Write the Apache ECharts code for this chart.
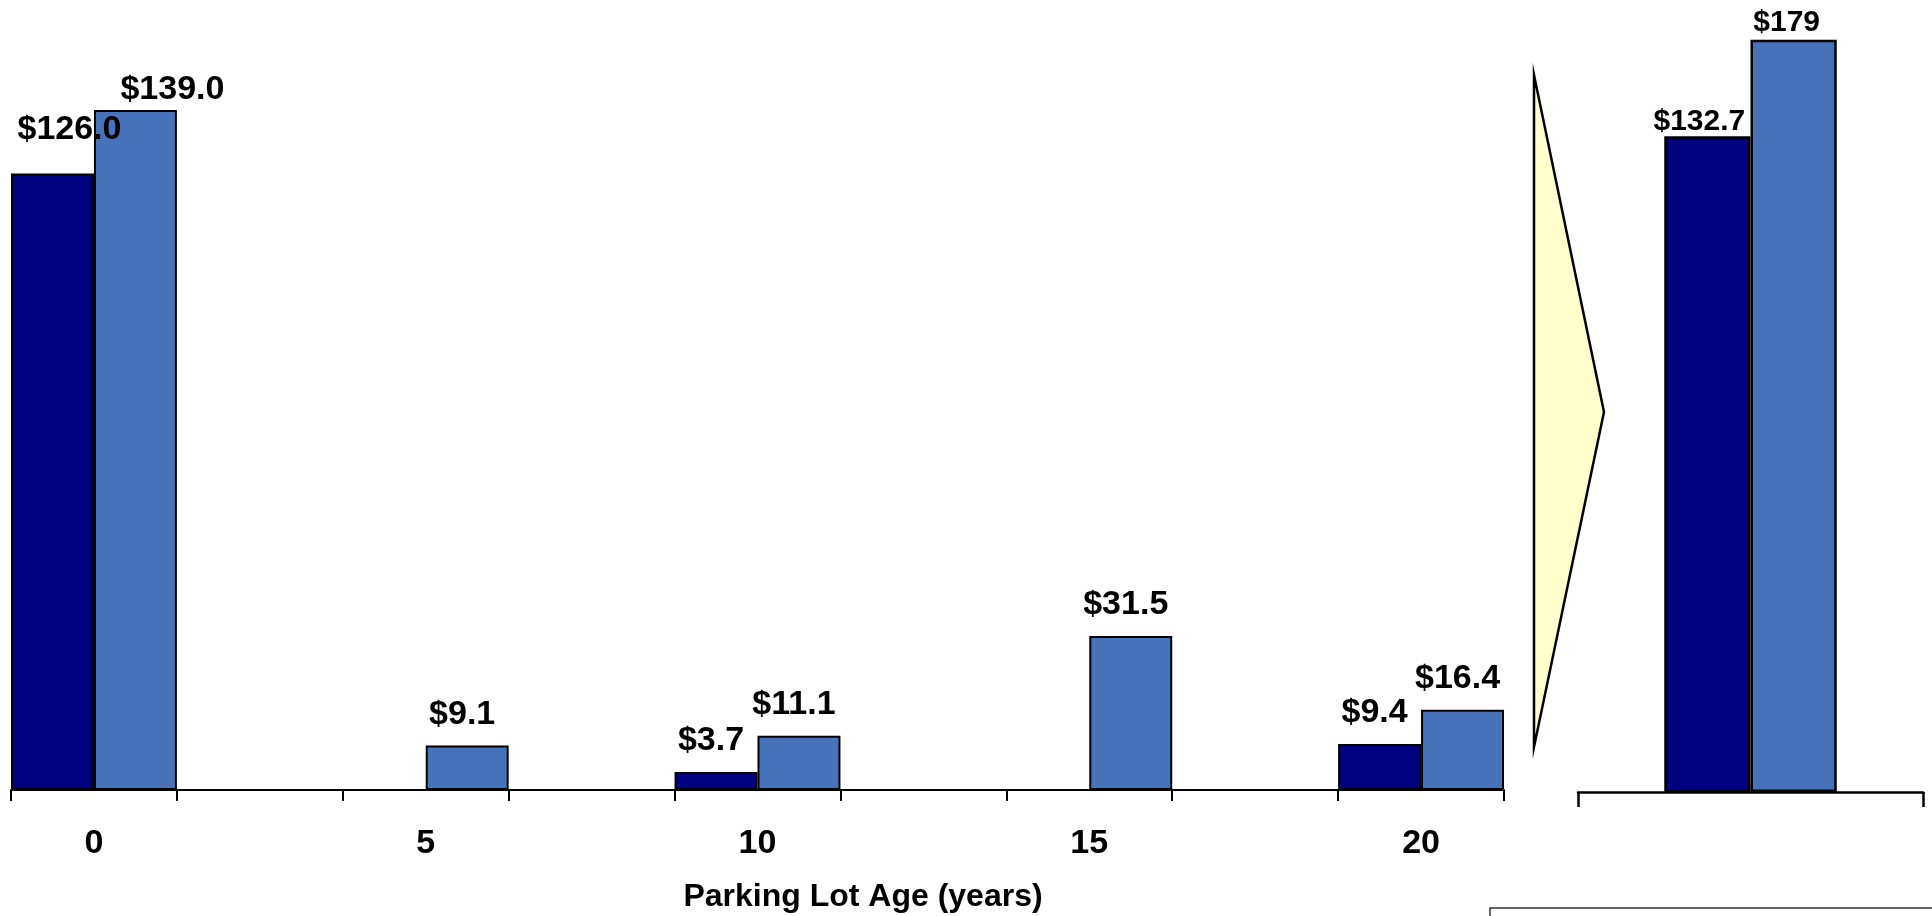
<!DOCTYPE html>
<html>
<head>
<meta charset="utf-8">
<script src="https://cdn.jsdelivr.net/npm/echarts@6/dist/echarts.min.js"></script>
<style>
html,body{margin:0;padding:0;background:#fff;}
#chart{width:1932px;height:916px;}
</style>
</head>
<body>
<div id="chart"></div>
<script>
// ---- data ----
const ageLabels = ['0', '', '5', '', '10', '', '15', '', '20'];
const seriesDark = [126.0, null, null, null, 3.7, null, null, null, 9.4];
const seriesLight = [139.0, null, 9.1, null, 11.1, null, 31.5, null, 16.4];
const totalLabels = [''];
const totalDark = [132.7];
const totalLight = [179];
const xAxisTitle = 'Parking Lot Age (years)';

// ---- styles ----
const DARK = '#000080';
const LIGHT = '#4773BB';
const FONT = 'Liberation Sans, Arial, sans-serif';
const darkOffsets = {0: [17, -13]};
const lightOffsets = {0: [37, 11]};

function items(values, offsets) {
  return values.map(function (v, i) {
    if (v == null) return null;
    const o = offsets[i] || [-5, 0];
    return {value: v, label: {offset: o}};
  });
}

const labelBase = {
  show: true, position: 'top', color: '#000', fontFamily: FONT,
  fontWeight: 'bold'
};

const chart = echarts.init(document.getElementById('chart'));
chart.setOption({
  animation: false,
  backgroundColor: '#fff',
  grid: [
    {left: 11, right: 428, top: 56.2, bottom: 126},
    {left: 1578, right: 9, top: 41, bottom: 124}
  ],
  xAxis: [
    {
      type: 'category', gridIndex: 0, data: ageLabels, boundaryGap: true,
      axisLine: {lineStyle: {color: '#000', width: 2}},
      axisTick: {show: true, interval: 0, length: 11, lineStyle: {color: '#000', width: 2}},
      axisLabel: {interval: 0, margin: 37, color: '#000', fontFamily: FONT, fontWeight: 'bold', fontSize: 34},
      splitLine: {show: false}
    },
    {
      type: 'category', gridIndex: 1, data: totalLabels, boundaryGap: true,
      axisLine: {lineStyle: {color: '#000', width: 2.5}},
      axisTick: {show: true, interval: 0, length: 15, lineStyle: {color: '#000', width: 2.5}},
      axisLabel: {show: false},
      splitLine: {show: false}
    }
  ],
  yAxis: [
    {type: 'value', gridIndex: 0, min: 0, max: 150, show: false, splitLine: {show: false}},
    {type: 'value', gridIndex: 1, min: 0, max: 152, show: false, splitLine: {show: false}}
  ],
  series: [
    {
      name: 'Series 1', type: 'bar', xAxisIndex: 0, yAxisIndex: 0,
      data: items(seriesDark, darkOffsets), barGap: '0%', barCategoryGap: '0%',
      itemStyle: {color: DARK, borderColor: '#000', borderWidth: 2},
      label: Object.assign({}, labelBase, {fontSize: 34, distance: 14,
        formatter: function (p) { return '$' + p.value.toFixed(1); }})
    },
    {
      name: 'Series 2', type: 'bar', xAxisIndex: 0, yAxisIndex: 0,
      data: items(seriesLight, lightOffsets), barGap: '0%', barCategoryGap: '0%',
      itemStyle: {color: LIGHT, borderColor: '#000', borderWidth: 2},
      label: Object.assign({}, labelBase, {fontSize: 34, distance: 14,
        formatter: function (p) { return '$' + p.value.toFixed(1); }})
    },
    {
      name: 'Total 1', type: 'bar', xAxisIndex: 1, yAxisIndex: 1, clip: true,
      data: totalDark.map(function (v) { return {value: v, label: {offset: [-8, 0]}}; }),
      barGap: '0%', barCategoryGap: '50%',
      itemStyle: {color: DARK, borderColor: '#000', borderWidth: 2.5},
      label: Object.assign({}, labelBase, {fontSize: 30, distance: 0,
        formatter: function (p) { return '$' + p.value; }})
    },
    {
      name: 'Total 2', type: 'bar', xAxisIndex: 1, yAxisIndex: 1, clip: true,
      data: totalLight.map(function (v) { return {value: v, label: {offset: [-7, 0]}}; }),
      barGap: '0%', barCategoryGap: '50%',
      itemStyle: {color: LIGHT, borderColor: '#000', borderWidth: 2.5},
      label: Object.assign({}, labelBase, {fontSize: 30, distance: 2,
        formatter: function (p) { return '$' + p.value; }})
    }
  ],
  graphic: [
    {
      type: 'polygon', silent: true,
      shape: {points: [[1534, 75], [1604, 412], [1534, 747]]},
      style: {fill: '#FFFFCC', stroke: '#000', lineWidth: 2.5}
    },
    {
      type: 'rect', silent: true,
      shape: {x: 1490, y: 908, width: 460, height: 40},
      style: {fill: 'none', stroke: '#333', lineWidth: 1.5}
    },
    {
      type: 'text', silent: true, x: 863, y: 897,
      style: {text: xAxisTitle, fill: '#000', font: 'bold 32px Liberation Sans, Arial, sans-serif',
        textAlign: 'center', textVerticalAlign: 'middle'}
    }
  ]
});
</script>
</body>
</html>
